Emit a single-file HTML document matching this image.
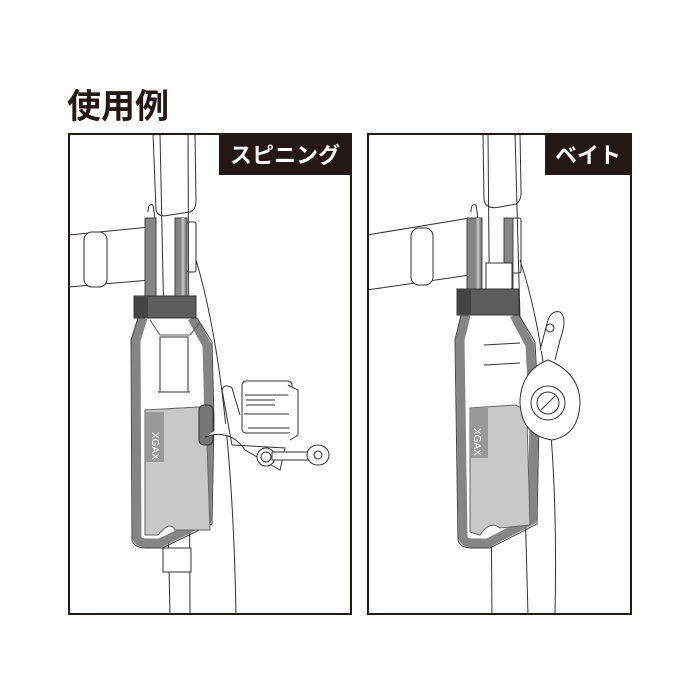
<!DOCTYPE html>
<html><head><meta charset="utf-8"><style>
html,body{margin:0;padding:0;background:#fff;}
body{width:700px;height:700px;position:relative;overflow:hidden;}
.t{position:absolute;left:67px;top:79px;font:bold 34px "Liberation Sans","Noto Sans CJK JP",sans-serif;color:#231815;}
svg{position:absolute;left:0;top:0;}
.lbl{font:bold 22px "Liberation Sans","Noto Sans CJK JP",sans-serif;fill:#fff;}
</style></head><body>
<div class="t">使用例</div>
<svg width="700" height="700" viewBox="0 0 700 700">
<g fill="none" stroke="#333" stroke-width="1">
<!-- LEFT PANEL -->
<path d="M153 133 L156 210 Q158 218 170 215 L190 212 Q196 210 196 200 L195 133" fill="#fff"/>
<path d="M69 235 L150 227 M69 287 L150 280"/>
<rect x="84" y="232" width="23" height="55" rx="8" fill="#fff"/>
<rect x="187" y="222" width="9" height="50" rx="2" fill="#fff"/>
<path d="M160 133 L170 615 M188 133 L190 615"/>
<path d="M196 260 Q232 380 236 615"/>
<!-- straps up -->
<path d="M148 212 Q148 203 153 205 L155 218" fill="#fff"/>
<rect x="145" y="218" width="11" height="80" fill="#858585" stroke="#444"/>
<rect x="175" y="218" width="12" height="80" fill="#858585" stroke="#444"/>
<line x1="183" y1="218" x2="183" y2="298" stroke="#bbb" stroke-width="3"/>
<!-- holster body outline -->
<path d="M143 318 L136 340 L137 538 Q139 543 146 543 L160 543 L207 520 L209 420 L207 345 L192 318" fill="#fff" stroke="#858585" stroke-width="9" stroke-linejoin="round"/>
<path d="M138 318 L131 340 L132 540 Q134 548 146 548 L162 548 L212 524 L214 420 L212 342 L197 318" fill="none" stroke="#444"/>
<path d="M150 320 L160 335 L190 335 L200 322" stroke="#555"/>
<rect x="160" y="337" width="28" height="55" fill="#fff"/>
<line x1="158" y1="392" x2="190" y2="392"/>
<!-- pad -->
<path d="M145 410 L198 407 Q205 408 206 415 L210 530 L175 530 Q170 520 158 535 L145 535 Z" fill="#c8c8c8" stroke="#666"/>
<rect x="146" y="412" width="18" height="50" fill="#999" stroke="none"/>
<text x="150" y="440" font-size="10" fill="#fff" stroke="none" transform="rotate(90 155 437)" font-family="Liberation Sans">XGAX</text>
<rect x="199" y="405" width="14" height="40" rx="5" fill="#777"/>
<!-- strap -->
<rect x="134" y="296" width="62" height="22" fill="#5c5c5c" stroke="#333"/>
<rect x="134" y="297" width="14" height="20" fill="#444" stroke="none"/>
<rect x="163" y="548" width="28" height="24" fill="#fff"/>
<!-- spinning reel -->
<path d="M205 437 Q230 428 245 450 L280 470 L285 448 L232 445 L222 390 Q224 383 232 388 L240 415" fill="#fff"/>
<rect x="242" y="381" width="50" height="52" rx="4" fill="#fff"/>
<path d="M245 395 L290 395 M246 400 L275 400 M246 405 L275 405 M244 414 L292 414 M248 428 L290 428"/>
<path d="M288 385 L298 390 L298 435 L290 440" fill="#fff"/>
<circle cx="266" cy="457" r="9" fill="#fff"/>
<circle cx="266" cy="457" r="5" fill="#fff"/>
<rect x="272" y="452" width="40" height="8" fill="#fff"/>
<ellipse cx="318" cy="455" rx="11" ry="10" fill="#fff"/>
<circle cx="318" cy="455" r="4" fill="#fff"/>

<!-- RIGHT PANEL -->
<path d="M483 133 L484 200 Q486 210 500 207 L516 204 Q522 200 521 190 L520 133" fill="#fff"/>
<path d="M367 235 L470 218 M367 290 L470 275"/>
<rect x="411" y="228" width="22" height="57" rx="8" fill="#fff"/>
<rect x="512" y="218" width="9" height="55" rx="2" fill="#fff"/>
<path d="M488 133 L492 615 M515 133 L528 615"/>
<path d="M520 260 Q560 380 555 615"/>
<path d="M471 212 Q471 203 476 205 L478 218" fill="#fff"/>
<rect x="467" y="218" width="15" height="72" fill="#858585" stroke="#444"/>
<line x1="478" y1="218" x2="478" y2="290" stroke="#bbb" stroke-width="3"/>
<rect x="504" y="218" width="9" height="72" fill="#858585" stroke="#444"/>
<rect x="486" y="263" width="26" height="27" fill="#fff"/>
<path d="M466 315 L460 340 L463 538 Q465 543 472 543 L488 543 L532 520 L534 420 L530 345 L514 315" fill="#fff" stroke="#858585" stroke-width="9" stroke-linejoin="round"/>
<path d="M461 315 L455 340 L458 540 Q460 548 472 548 L490 548 L537 524 L539 420 L535 342 L519 315" fill="none" stroke="#444"/>
<path d="M484 345 L520 343 M484 365 L520 363"/>
<path d="M470 408 L515 405 Q525 408 527 420 L530 525 L500 528 Q490 520 480 535 L470 532 Z" fill="#c8c8c8" stroke="#666"/>
<rect x="471" y="408" width="17" height="50" fill="#999" stroke="none"/>
<text x="472" y="436" font-size="10" fill="#fff" stroke="none" transform="rotate(90 477 433)" font-family="Liberation Sans">XGAX</text>
<rect x="457" y="289" width="62" height="26" fill="#5c5c5c" stroke="#333"/>
<rect x="457" y="290" width="14" height="24" fill="#444" stroke="none"/>
<!-- bait reel -->
<path d="M540 350 L548 320 Q552 310 560 312 Q568 318 560 340 L555 360" fill="#fff"/>
<circle cx="550" cy="328" r="4" fill="#fff"/>
<path d="M548 360 Q578 372 580 400 Q580 435 552 440 Q520 435 520 400 Q522 370 548 360 Z" fill="#fff"/>
<circle cx="548" cy="403" r="17" fill="#fff"/>
<circle cx="548" cy="403" r="11" fill="#fff"/>
<path d="M541 410 L555 396"/>
</g>
<rect x="69" y="134" width="282" height="480" fill="none" stroke="#231815" stroke-width="2"/>
<rect x="368" y="134" width="263" height="480" fill="none" stroke="#231815" stroke-width="2"/>
<rect x="219" y="133" width="133" height="42" fill="#231815"/>
<text x="285" y="163" text-anchor="middle" class="lbl">スピニング</text>
<rect x="545" y="133" width="87" height="42" fill="#231815"/>
<text x="588" y="163" text-anchor="middle" class="lbl">ベイト</text>
</svg>
</body></html>
